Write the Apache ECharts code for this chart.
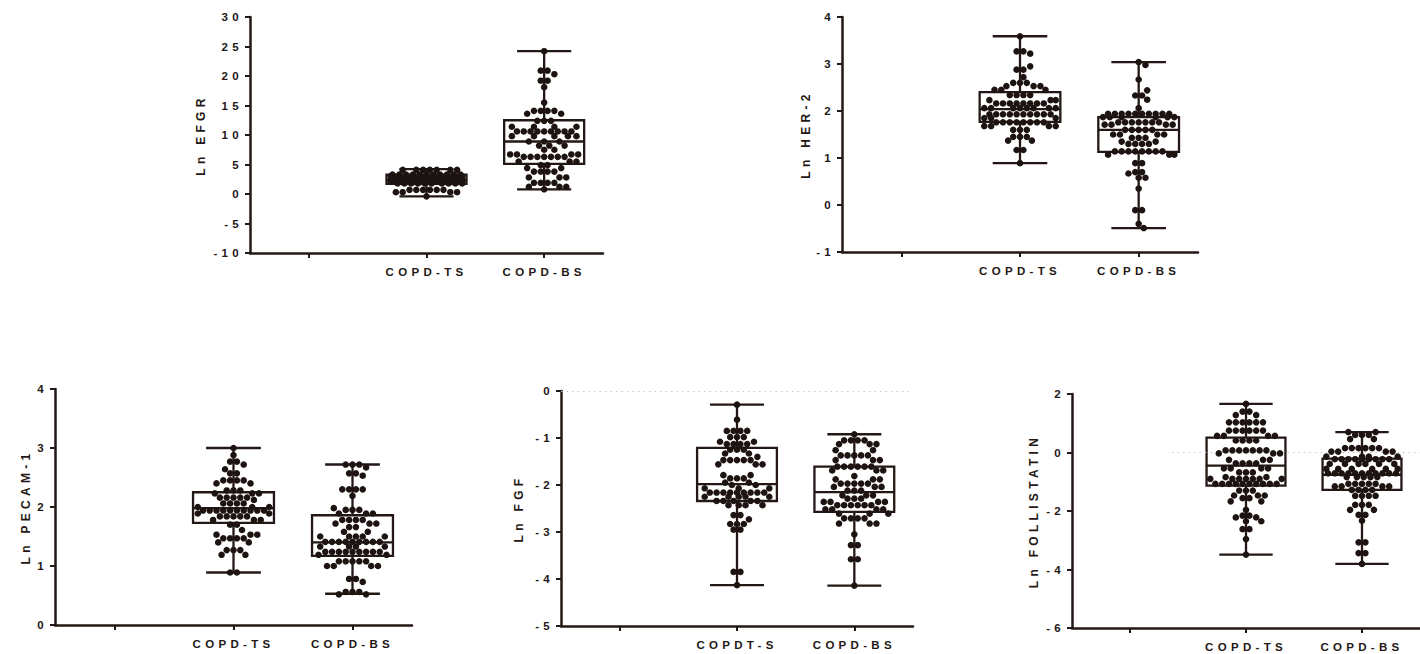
<!DOCTYPE html>
<html><head><meta charset="utf-8">
<script src="https://cdn.jsdelivr.net/npm/echarts@6/dist/echarts.min.js"></script>
<style>
html,body{margin:0;padding:0;background:#fff;}
#c{width:1420px;height:654px;}
#c svg text{letter-spacing:4.3px;}
</style></head><body><div id="c"></div>
<script>
// ---------- data ----------
const CATEGORIES = ['', 'COPD-TS', 'COPD-BS'];
const CATEGORIES_FGF = ['', 'COPDT-S', 'COPD-BS'];
const TITLES = ['Ln EFGR', 'Ln HER-2', 'Ln PECAM-1', 'Ln FGF', 'Ln FOLLISTATIN'];
const Y_MIN = [-10, -1, 0, -5, -6];
const Y_MAX = [30, 4, 4, 0, 2];
const Y_STEP = [5, 1, 1, 1, 2];

const EFGR_TS = [4.1,4.1,4.1,4.1,4.1,4.1,4.1,
  3.3,3.3,3.3,3.3,3.3,3.3,3.3,3.3,3.3,3.3,3.3,
  3.0,3.0,3.0,3.0,3.0,3.0,3.0,3.0,3.0,3.0,3.0,
  2.7,2.7,2.7,2.7,2.7,2.7,2.7,2.7,2.7,2.7,2.7,
  2.4,2.4,2.4,2.4,2.4,2.4,2.4,2.4,2.4,2.4,2.4,
  2.1,2.1,2.1,2.1,2.1,2.1,2.1,2.1,2.1,2.1,2.1,
  1.8,1.8,1.8,1.8,1.8,1.8,1.8,1.8,1.8,1.8,
  0.7,0.7,0.7,0.7,0.7,0.7, 0.3,0.3,0.3,0.3, -0.4];
const EFGR_BS = [24.2, 20.9,20.9, 20.3, 19.2,19.2, 18.1, 15.5,
  14.1,14.1,14.1,14.1, 13.6,13.6, 12.4,12.4,12.4, 11.4,11.4,11.4,11.4,
  10.6,10.6,10.6,10.6,10.6,10.6,10.6,10.6,10.6, 9.8,9.8,9.8,9.8,9.8,
  8.9,8.9,8.9, 8.2,8.2,8.2, 7.5,7.5, 6.7,6.7,6.7,6.7,
  6.3,6.3,6.3,6.3,6.3,6.3,6.3, 5.5,5.5,5.5, 4.9,4.9, 4.4,4.4,
  3.8,3.8,3.8,3.8, 2.8,2.8,2.8, 1.9,1.9,1.9,1.9, 1.2,1.2,1.2, 0.8];
const HER2_TS = [3.59, 3.27,3.27, 3.22, 2.95, 2.88,2.88, 2.72,
  2.60,2.60,2.60, 2.53,2.53,2.53, 2.45,2.45,2.45, 2.34,2.34,2.34,2.34, 2.23,2.23,2.23,
  2.16,2.16,2.16,2.16,2.16,2.16,2.16,2.16, 2.06,2.06,2.06,2.06,2.06,2.06,2.06,2.06,
  1.93,1.93,1.93,1.93,1.93,1.93,1.93,1.93,1.93,1.93, 1.85,1.85,1.85,
  1.76,1.76,1.76,1.76,1.76,1.76,1.76,1.76, 1.68,1.68,1.68,1.68, 1.60,1.60,1.60,
  1.45,1.45,1.45, 1.37,1.37, 1.17,1.17, 0.89];
const HER2_BS = [3.04, 2.98, 2.67, 2.44, 2.33,2.33, 2.24, 2.06,
  1.94,1.94,1.94,1.94,1.94,1.94,1.94,1.94,1.94,1.94, 1.87,1.87,1.87,1.87,1.87,1.87,
  1.76,1.76,1.76,1.76,1.76,1.76,1.76, 1.71,1.71,1.71,1.71, 1.60,1.60,1.60,1.60,1.60,
  1.50,1.50,1.50,1.50, 1.43,1.43,1.43, 1.35,1.35, 1.30,1.30,1.30,1.30,
  1.14,1.14,1.14,1.14,1.14,1.14,1.14,1.14, 1.07,1.07,1.07,
  0.89,0.89, 0.70,0.70, 0.67, 0.58,0.58, 0.35, -0.11,-0.11, -0.40, -0.49];
const PECAM_TS = [3.00, 2.88, 2.77,2.77, 2.72, 2.64, 2.57,2.57,
  2.45,2.45,2.45,2.45, 2.40,2.40, 2.28,2.28,2.28, 2.23,2.23,2.23,
  2.16,2.16,2.16,2.16,2.16, 2.12, 2.06,2.06,2.06,2.06, 2.00,2.00,2.00,
  1.94,1.94,1.94,1.94,1.94,1.94,1.94,1.94,1.94,1.94, 1.89,1.89,
  1.84,1.84,1.84,1.84,1.84, 1.78,1.78,1.78, 1.70,1.70, 1.61,
  1.53,1.53,1.53, 1.47,1.47,1.47,1.47, 1.40,1.40, 1.27,1.27,1.27, 1.19,1.19, 0.89,0.89];
const PECAM_BS = [2.72,2.72,2.72, 2.67, 2.57,2.57, 2.53, 2.30,2.30,2.30,2.30, 2.19, 1.98,
  1.95,1.95,1.95, 1.89,1.89,1.89, 1.78,1.78,1.78,1.78, 1.72,1.72,1.72, 1.66,1.66, 1.58,1.58,
  1.50,1.50,1.50,1.50,1.50, 1.41,1.41,1.41,1.41,1.41,1.41,1.41,1.41,1.41,
  1.33,1.33,1.33,1.33, 1.24,1.24,1.24,1.24,1.24,1.24,1.24,1.24,1.24, 1.19,1.19,
  1.08,1.08,1.08,1.08,1.08, 1.00,1.00,1.00,1.00, 0.78,0.78, 0.73, 0.56,0.56,0.56, 0.52,0.52];
const FGF_TS = [-0.29, -0.61, -0.85,-0.85,-0.85,-0.85, -0.98,-0.98,-0.98, -1.08,-1.08,
  -1.13,-1.13,-1.13,-1.13, -1.25,-1.25,-1.25, -1.33,-1.33, -1.40, -1.47,-1.47,-1.47,-1.47,-1.47,
  -1.56,-1.56,-1.56, -1.79,-1.79, -1.86,-1.86,-1.86, -1.95,-1.95, -2.00,-2.00, -2.07,-2.07,-2.07,
  -2.16,-2.16,-2.16,-2.16,-2.16,-2.16,-2.16,-2.16,-2.16, -2.25,-2.25,-2.25,-2.25,-2.25,
  -2.34,-2.34,-2.34,-2.34,-2.34, -2.43,-2.43,-2.43,-2.43, -2.64,-2.64, -2.73,
  -2.83,-2.83,-2.83, -2.95,-2.95, -3.85,-3.85, -4.13];
const FGF_BS = [-0.92, -1.05,-1.05,-1.05,-1.05, -1.13,-1.13,-1.13, -1.26,-1.26,
  -1.37,-1.37,-1.37,-1.37,-1.37, -1.47,-1.47,-1.47, -1.61,-1.61,-1.61,-1.61,-1.61,-1.61,
  -1.69,-1.69,-1.69, -1.81, -1.88,-1.88,-1.88, -1.97,-1.97,-1.97,-1.97,-1.97,
  -2.04,-2.04,-2.04, -2.12,-2.12,-2.12, -2.22,-2.22,-2.22, -2.29,-2.29,-2.29,
  -2.36,-2.36,-2.36,-2.36, -2.43,-2.43,-2.43,-2.43,-2.43,-2.43, -2.52,-2.52,-2.52,-2.52,
  -2.61,-2.61,-2.61, -2.71,-2.71,-2.71,-2.71, -2.82,-2.82,-2.82, -3.05, -3.28,-3.28, -3.58,-3.58, -4.14];
const FOLL_TS = [1.66, 1.40,1.40, 1.28,1.28, 1.03,1.03,1.03,1.03,1.03,1.03,
  0.75,0.75,0.75,0.75,0.75,0.75, 0.57,0.57,0.57,0.57, 0.41,0.41,0.41,0.41,
  0.07,0.07,0.07,0.07,0.07,0.07,0.07, -0.03,-0.03,-0.03, -0.25,-0.25,-0.25,
  -0.37,-0.37,-0.37,-0.37, -0.54,-0.54,-0.54,-0.54, -0.68,-0.68,-0.68, -0.84,-0.84,
  -0.90,-0.90,-0.90,-0.90,-0.90,-0.90,-0.90, -1.07,-1.07,-1.07,-1.07,-1.07,-1.07,-1.07,-1.07,-1.07,-1.07,
  -1.30,-1.30,-1.30, -1.47,-1.47,-1.47, -1.56,-1.56, -1.67,-1.67, -1.96, -2.16,-2.16, -2.22,-2.22,
  -2.35,-2.35, -2.62,-2.62, -2.96, -3.49];
const FOLL_BS = [0.70,0.70, 0.60,0.60,0.60, 0.46,0.46, 0.15,0.15,0.15,0.15,0.15,0.15,
  0.03,0.03,0.03,0.03, -0.14,-0.14,-0.14,-0.14, -0.23,-0.23,-0.23,-0.23,-0.23,-0.23,-0.23,-0.23,-0.23,
  -0.39,-0.39,-0.39,-0.39,-0.39,-0.39, -0.56,-0.56,-0.56,-0.56,-0.56,-0.56,
  -0.71,-0.71,-0.71,-0.71,-0.71,-0.71,-0.71,-0.71,-0.71,-0.71,-0.71, -0.84,-0.84,-0.84,-0.84,-0.84,
  -1.07,-1.07,-1.07,-1.07,-1.07, -1.16,-1.16,-1.16,-1.16, -1.28,-1.28,-1.28,-1.28,
  -1.48,-1.48,-1.48,-1.48, -1.79,-1.79,-1.79, -1.96,-1.96, -2.13,-2.13, -2.33,
  -3.07,-3.07, -3.44,-3.44, -3.81];

// box summaries: [min, Q1, median, Q3, max]
const EFGR_TS_BOX = [-0.4, 1.7, 2.4, 3.3, 4.2];
const EFGR_BS_BOX = [0.8, 5.1, 8.9, 12.5, 24.2];
const HER2_TS_BOX = [0.89, 1.77, 2.04, 2.40, 3.59];
const HER2_BS_BOX = [-0.49, 1.13, 1.60, 1.87, 3.04];
const PECAM_TS_BOX = [0.89, 1.73, 1.98, 2.25, 3.00];
const PECAM_BS_BOX = [0.53, 1.17, 1.40, 1.86, 2.72];
const FGF_TS_BOX = [-4.13, -2.34, -1.98, -1.21, -0.29];
const FGF_BS_BOX = [-4.14, -2.57, -2.15, -1.61, -0.92];
const FOLL_TS_BOX = [-3.49, -1.13, -0.45, 0.51, 1.66];
const FOLL_BS_BOX = [-3.81, -1.28, -0.76, -0.21, 0.70];

// ---------- styling / layout ----------
const LINE = '#231815', DOT = '#1d1412', TEXT = '#231815';
const FONT = '"Liberation Sans", Arial, sans-serif';
const GRIDS = [
  {left: 250, top: 17, width: 353, height: 236},
  {left: 842, top: 17, width: 356, height: 235},
  {left: 55, top: 389, width: 357, height: 236},
  {left: 561, top: 391, width: 352, height: 235},
  {left: 1072, top: 394, width: 352, height: 234}
];
const NAME_GAP = [43, 30, 23, 36, 32];
const DOT_R = 3.3, DOT_GAP = 6.8, HALF_MAX = 37;

function layoutGroup(items) {
  const rows = new Map();
  items.forEach(it => { const k = it.y.toFixed(2); if (!rows.has(k)) rows.set(k, []); rows.get(k).push(it); });
  const placed = [], out = {};
  const minD = DOT_GAP * 0.93;
  const collide = (px, py) => { let s = 0; for (const p of placed) { const d = Math.hypot(p[0] - px, p[1] - py); if (d < minD) s += minD - d; } return s; };
  const step = DOT_GAP / 4;
  const cands = [];
  for (let k = 0; k * step <= HALF_MAX; k++) { cands.push(k * step); if (k) cands.push(-k * step); }
  const rowList = [...rows.values()].sort((a, b) => b.length - a.length || a[0].y - b[0].y);
  rowList.forEach(row => {
    const n = row.length, y = row[0].y, x0 = row[0].x;
    const s = n > 1 ? Math.min(DOT_GAP, 2 * HALF_MAX / (n - 1)) : 0;
    const base = row.map((_, i) => (i - (n - 1) / 2) * s);
    for (const shift of [0, DOT_GAP / 2, -DOT_GAP / 2]) {
      if (base.every(b => collide(x0 + b + shift, y) === 0)) {
        row.forEach((it, i) => { const px = x0 + base[i] + shift; out[it.idx] = [px, y]; placed.push([px, y]); });
        return;
      }
    }
    row.forEach(it => {
      let best = 0, bestS = Infinity;
      for (const c of cands) {
        const sc = collide(x0 + c, y);
        if (sc === 0) { best = c; break; }
        if (sc < bestS) { bestS = sc; best = c; }
      }
      out[it.idx] = [x0 + best, y]; placed.push([x0 + best, y]);
    });
  });
  return out;
}

function dotSeries(p, ts, bs) {
  const data = ts.map(v => [1, v]).concat(bs.map(v => [2, v]));
  return {
    type: 'custom', xAxisIndex: p, yAxisIndex: p, data: data, z: 5, silent: true,
    encode: {x: 0, y: 1},
    renderItem: function (params, api) {
      const c = params.context;
      if (!c.pos) {
        c.pos = {};
        [1, 2].forEach(cat => {
          const items = [];
          data.forEach((d, i) => { if (d[0] === cat) { const pt = api.coord(d); items.push({idx: i, x: pt[0], y: pt[1]}); } });
          Object.assign(c.pos, layoutGroup(items));
        });
      }
      const pos = c.pos[params.dataIndex];
      return {type: 'circle', shape: {cx: pos[0], cy: pos[1], r: DOT_R}, style: {fill: DOT}};
    }
  };
}

function boxSeries(p, tsBox, bsBox, markLine) {
  const s = {
    type: 'custom', xAxisIndex: p, yAxisIndex: p, z: 3, silent: true,
    data: [[1].concat(tsBox), [2].concat(bsBox)],
    encode: {x: 0, y: [1, 2, 3, 4, 5]},
    renderItem: function (params, api) {
      const cat = api.value(0);
      const ys = [1, 2, 3, 4, 5].map(k => api.coord([cat, api.value(k)])[1]);
      const cx = api.coord([cat, api.value(3)])[0];
      const bw = api.size([1, 0])[0];
      const hb = bw * 0.34, hc = bw * 0.23;
      const st = {stroke: LINE, lineWidth: 2.3, fill: 'none'};
      const [yMin, yQ1, yMed, yQ3, yMax] = ys;
      return {type: 'group', children: [
        {type: 'line', shape: {x1: cx, y1: yMax, x2: cx, y2: yQ3}, style: st},
        {type: 'line', shape: {x1: cx, y1: yQ1, x2: cx, y2: yMin}, style: st},
        {type: 'line', shape: {x1: cx - hc, y1: yMax, x2: cx + hc, y2: yMax}, style: st},
        {type: 'line', shape: {x1: cx - hc, y1: yMin, x2: cx + hc, y2: yMin}, style: st},
        {type: 'rect', shape: {x: cx - hb, y: yQ3, width: 2 * hb, height: yQ1 - yQ3}, style: st},
        {type: 'line', shape: {x1: cx - hb, y1: yMed, x2: cx + hb, y2: yMed}, style: st}
      ]};
    }
  };
  if (markLine) s.markLine = markLine;
  return s;
}

const dotted = {symbol: 'none', silent: true, label: {show: false},
  lineStyle: {color: '#c9c9c9', width: 1, type: [1.5, 4]}, animation: false};

const option = {
  animation: false,
  grid: GRIDS,
  xAxis: GRIDS.map((g, p) => ({
    type: 'category', gridIndex: p, data: p === 3 ? CATEGORIES_FGF : CATEGORIES, boundaryGap: true,
    axisLine: {show: true, onZero: false, lineStyle: {color: LINE, width: 2.5}},
    axisTick: {show: true, alignWithLabel: true, length: 5, lineStyle: {color: LINE, width: 2}},
    axisLabel: {color: TEXT, fontWeight: 'bold', fontSize: 11.5, fontFamily: FONT, margin: 13, interval: 0},
    splitLine: {show: false}
  })),
  yAxis: GRIDS.map((g, p) => ({
    type: 'value', gridIndex: p, min: Y_MIN[p], max: Y_MAX[p], interval: Y_STEP[p],
    name: TITLES[p], nameLocation: 'middle', nameGap: NAME_GAP[p],
    nameTextStyle: {color: TEXT, fontWeight: 'bold', fontSize: 12, fontFamily: FONT},
    axisLine: {show: true, onZero: false, lineStyle: {color: LINE, width: 2.5}},
    axisTick: {show: true, length: 5, lineStyle: {color: LINE, width: 2}},
    axisLabel: {color: TEXT, fontWeight: 'bold', fontSize: 11.5, fontFamily: FONT, margin: 7},
    splitLine: {show: false}
  })),
  series: [
    boxSeries(0, EFGR_TS_BOX, EFGR_BS_BOX), dotSeries(0, EFGR_TS, EFGR_BS),
    boxSeries(1, HER2_TS_BOX, HER2_BS_BOX), dotSeries(1, HER2_TS, HER2_BS),
    boxSeries(2, PECAM_TS_BOX, PECAM_BS_BOX), dotSeries(2, PECAM_TS, PECAM_BS),
    boxSeries(3, FGF_TS_BOX, FGF_BS_BOX, Object.assign({data: [{yAxis: 0}]}, dotted)), dotSeries(3, FGF_TS, FGF_BS),
    boxSeries(4, FOLL_TS_BOX, FOLL_BS_BOX, Object.assign({data: [[{xAxis: 0, yAxis: 0, x: 1172}, {xAxis: 2, yAxis: 0, x: 1420}]]}, dotted)),
    dotSeries(4, FOLL_TS, FOLL_BS)
  ]
};
const chart = echarts.init(document.getElementById('c'), null, {renderer: 'svg'});
chart.setOption(option);
</script></body></html>
